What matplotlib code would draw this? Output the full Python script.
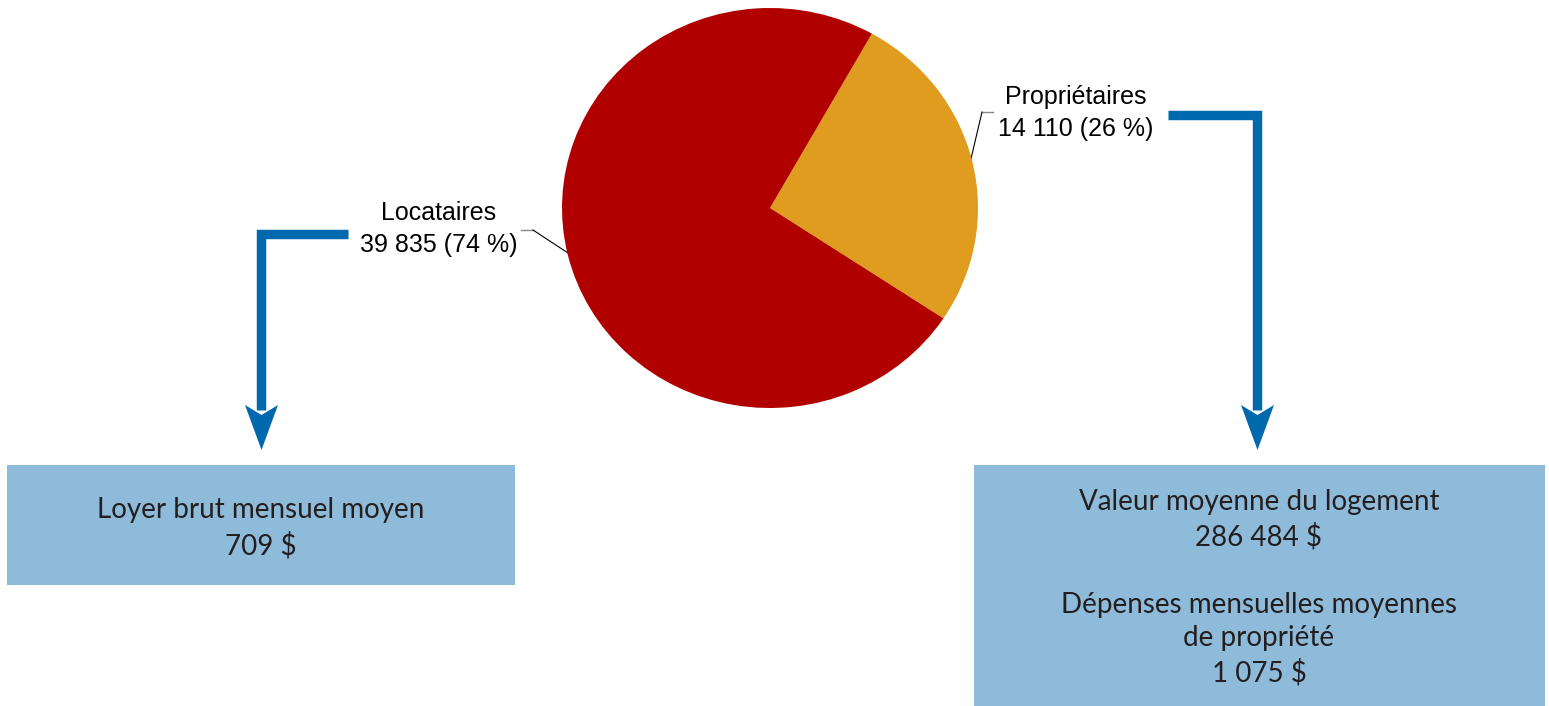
import matplotlib
matplotlib.use("Agg")
import matplotlib.pyplot as plt
from matplotlib.patches import Polygon, Rectangle

# data
categories = ["Propriétaires", "Locataires"]
households = [14110, 39835]
shares = ["26 %", "74 %"]
renter_box = ["Loyer brut mensuel moyen", "709 $"]
owner_box = ["Valeur moyenne du logement", "286 484 $", "",
             "Dépenses mensuelles moyennes", "de propriété", "1 075 $"]

RED = "#b00000"
ORANGE = "#e09c1e"
BLUE = "#0068ac"
BOX = "#8fbbda"
TXT = "#231f20"

W, H = 1549, 706
fig = plt.figure(figsize=(W / 100, H / 100), dpi=100)
ax = fig.add_axes([0, 0, 1, 1])
ax.set_xlim(0, W)
ax.set_ylim(H, 0)
ax.axis("off")

# pie in its own axes (slightly wider than tall, like the original)
px, py, pw, ph = 562, 8, 416, 400
pax = fig.add_axes([px / W, 1 - (py + ph) / H, pw / W, ph / H])
pax.pie(households, colors=[ORANGE, RED], startangle=-33.5, counterclock=True,
        radius=1, wedgeprops=dict(linewidth=0))
pax.set_aspect("auto")
pax.set_xlim(-1, 1)
pax.set_ylim(-1, 1)
pax.axis("off")

label_font = ["Liberation Sans", "DejaVu Sans"]
box_font = ["Lato", "DejaVu Sans"]


def fmt(n):
    return f"{n:,}".replace(",", " ")


# pie labels
ax.text(439, 229, f"{categories[1]}\n{fmt(households[1])} ({shares[1]})",
        ha="center", va="center", fontsize=18, family=label_font,
        linespacing=1.4, color="black")
ax.text(1076, 113, f"{categories[0]}\n{fmt(households[0])} ({shares[0]})",
        ha="center", va="center", fontsize=18, family=label_font,
        linespacing=1.4, color="black")

# leader lines
ax.plot([521, 533], [230, 230], color="#888888", lw=1)
ax.plot([533, 568], [230, 253], color="black", lw=0.8)
ax.plot([993, 982], [112, 112], color="#888888", lw=1)
ax.plot([982, 970], [112, 163], color="black", lw=0.8)

# blue arrows
def arrow(x0, y0, xv, y_end):
    ax.plot([x0, xv, xv], [y0, y0, y_end], color=BLUE, lw=6.8,
            solid_joinstyle="miter", solid_capstyle="butt")
    head = Polygon([(xv - 16.5, y_end - 5), (xv, y_end + 5), (xv + 16.5, y_end - 5),
                    (xv, y_end + 40)], closed=True, color=BLUE, lw=0)
    ax.add_patch(head)


arrow(348, 234, 261.5, 410)
arrow(1168, 115, 1257.5, 410)

# boxes
ax.add_patch(Rectangle((7, 465), 508, 120, color=BOX, lw=0))
ax.add_patch(Rectangle((974, 465), 571, 241, color=BOX, lw=0))

ax.text(261, 528, "\n".join(renter_box), ha="center", va="center",
        fontsize=20, family=box_font, color=TXT, linespacing=1.42)
ax.text(1259, 588, "\n".join(owner_box), ha="center", va="center",
        fontsize=20, family=box_font, color=TXT, linespacing=1.36)

fig.savefig("out.png", dpi=100)
